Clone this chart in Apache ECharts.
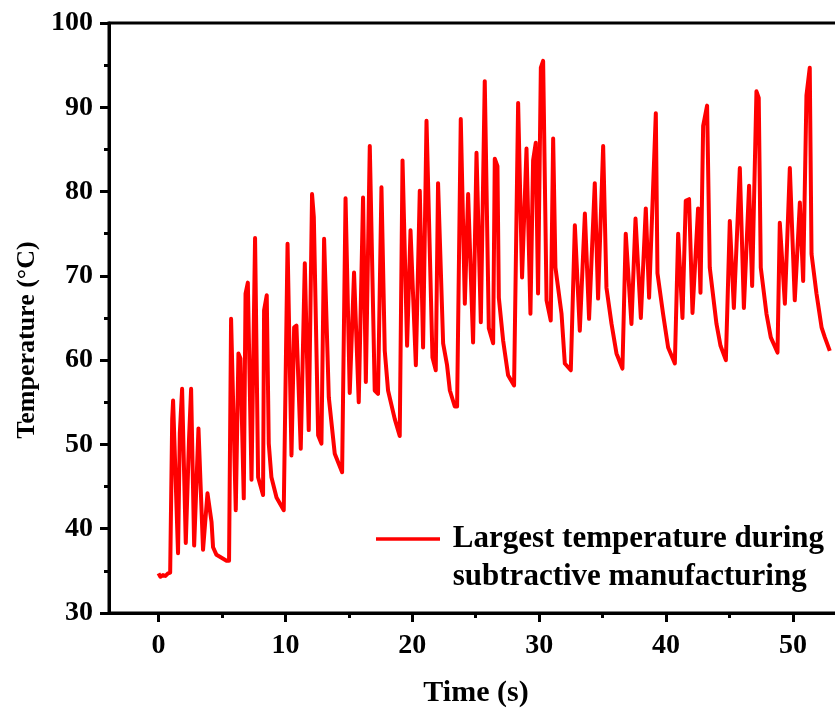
<!DOCTYPE html>
<html>
<head>
<meta charset="utf-8">
<script src="https://cdn.jsdelivr.net/npm/echarts@6/dist/echarts.min.js"></script>
<style>
html,body{margin:0;padding:0;background:#fff;}
#chart{width:835px;height:708px;}
</style>
</head>
<body>
<div id="chart"></div>
<script>
var times = [0.0,0.15,0.35,0.55,0.75,0.92,1.08,1.15,1.54,1.68,1.86,2.15,2.41,2.57,2.81,3.15,3.51,3.86,4.18,4.30,4.57,5.36,5.56,
  5.72,6.09,6.30,6.46,6.72,6.86,7.04,7.33,7.61,7.85,8.24,8.32,8.53,8.69,8.90,9.30,9.87,10.0,
  10.17,10.48,10.69,10.87,11.21,11.53,11.66,11.84,12.10,12.24,12.58,12.84,13.05,13.42,13.89,14.47,
  14.74,15.07,15.41,15.78,16.12,16.34,16.65,17.04,17.30,17.57,17.83,18.09,18.62,19.01,
  19.23,19.59,19.86,20.28,20.59,20.85,21.12,21.59,21.85,22.03,22.43,22.74,22.96,23.35,23.53,
  23.82,24.14,24.40,24.79,25.06,25.40,25.71,26.03,26.37,26.50,26.71,26.82,27.16,27.55,28.02,
  28.34,28.65,29.00,29.31,29.52,29.73,29.91,30.13,30.31,30.58,30.91,31.10,31.28,31.76,32.02,32.49,
  32.81,33.20,33.60,33.93,34.38,34.64,35.04,35.30,35.70,36.09,36.56,
  36.82,37.27,37.59,38.01,38.40,38.66,39.19,39.32,39.76,40.16,40.69,
  40.95,41.29,41.55,41.81,42.08,42.52,42.71,42.92,43.23,43.44,43.97,44.29,44.71,
  45.02,45.34,45.81,46.13,46.54,46.78,47.12,47.30,47.46,47.91,48.25,48.78,
  48.96,49.36,49.75,50.14,50.54,50.80,51.06,51.32,51.46,51.85,52.25,52.51,52.90];
var temps = [34.7,34.3,34.5,34.4,34.7,34.8,53.0,55.2,37.1,51.3,56.6,38.3,50.8,56.6,38.0,51.9,37.5,44.2,40.8,37.8,36.9,36.2,36.2,
  64.9,42.2,60.8,60.2,43.6,67.9,69.2,45.8,74.5,46.1,44.0,65.9,67.7,50.1,46.1,43.7,42.2,42.0,
  73.8,48.7,63.9,64.1,49.5,71.5,71.6,51.7,79.7,77.0,51.1,50.1,74.4,55.6,48.9,46.7,
  79.2,56.1,70.4,55.0,79.3,57.4,85.4,56.4,56.0,80.5,61.1,56.4,53.0,51.0,
  83.7,61.7,75.4,59.4,80.1,61.5,88.4,60.3,58.8,81.0,62.0,59.4,56.4,54.5,54.5,
  88.6,66.7,79.7,62.1,84.6,64.5,93.1,63.8,62.0,83.9,83.0,67.4,62.3,58.2,57.0,
  90.5,69.8,85.1,65.5,83.7,85.8,67.9,94.7,95.5,67.1,64.7,86.3,71.0,65.5,59.6,58.8,
  76.0,63.5,77.4,64.9,81.0,67.3,85.4,68.6,64.3,60.8,59.0,
  75.0,64.3,76.8,65.0,78.0,67.4,89.3,70.3,65.5,61.5,59.6,
  75.0,65.0,78.9,79.1,65.6,78.0,68.0,87.8,90.2,71.0,64.3,61.7,60.0,
  76.5,66.2,82.8,66.2,80.7,68.8,91.9,91.1,71.0,65.5,62.7,60.9,
  76.3,66.7,82.8,67.1,78.7,69.4,91.4,94.7,72.6,67.9,63.9,62.7,61.1];
var xTickLabels = [0, 10, 20, 30, 40, 50];
var xMinorTicks = [5, 15, 25, 35, 45];
var seriesName = 'Largest temperature during\nsubtractive manufacturing';

var pts = times.map(function (t, i) { return [t, temps[i]]; });
var FONT = '"Liberation Serif", "Times New Roman", serif';
var XMIN = -3.9, XMAX = 53.94;

var chart = echarts.init(document.getElementById('chart'), null, {renderer: 'canvas'});
chart.setOption({
  animation: false,
  backgroundColor: '#fff',
  grid: {
    left: 109, right: -8, top: 23, bottom: 95,
    containLabel: false, outerBoundsMode: 'none',
    show: true, borderColor: '#000', borderWidth: 3, backgroundColor: 'transparent'
  },
  legend: {
    show: true,
    left: 376, top: 482,
    padding: 0,
    itemWidth: 64, itemHeight: 14,
    data: [{name: seriesName, icon: 'path://M0,6 L64,6 L64,9.5 L0,9.5 Z'}],
    itemStyle: {color: '#ff0000'},
    formatter: function (name) {
      return ' \n' + name.split('\n').map(function (s) { return ' ' + s; }).join('\n');
    },
    textStyle: {
      fontFamily: FONT, fontWeight: 'bold', fontSize: 31, color: '#000',
      lineHeight: 38
    }
  },
  xAxis: [{
    type: 'value', min: XMIN, max: XMAX,
    name: 'Time (s)', nameLocation: 'middle', nameGap: 65,
    nameTextStyle: {fontFamily: FONT, fontWeight: 'bold', fontSize: 30, color: '#000'},
    axisLine: {show: true, onZero: false, lineStyle: {color: '#000', width: 3}},
    axisTick: {show: true, inside: false, length: 9, lineStyle: {color: '#000', width: 3}, customValues: xTickLabels},
    axisLabel: {show: true, margin: 19, fontFamily: FONT, fontWeight: 'bold', fontSize: 28, color: '#000', customValues: xTickLabels},
    splitLine: {show: false}
  }, {
    type: 'value', min: XMIN, max: XMAX, position: 'bottom',
    axisLine: {show: false},
    axisTick: {show: true, inside: false, length: 5, lineStyle: {color: '#000', width: 3}, customValues: xMinorTicks},
    axisLabel: {show: false},
    splitLine: {show: false}
  }],
  yAxis: {
    type: 'value', min: 30, max: 100, interval: 10,
    name: 'Temperature (\u00B0C)', nameLocation: 'middle', nameGap: 64,
    nameTextStyle: {fontFamily: FONT, fontWeight: 'bold', fontSize: 26, color: '#000', padding: [0, 44, 0, 0]},
    axisLine: {show: true, onZero: false, lineStyle: {color: '#000', width: 3}},
    axisTick: {show: true, inside: false, length: 9, lineStyle: {color: '#000', width: 3}},
    minorTick: {show: true, splitNumber: 2, length: 5, lineStyle: {color: '#000', width: 3}},
    axisLabel: {show: true, margin: 16, fontFamily: FONT, fontWeight: 'bold', fontSize: 28, color: '#000'},
    splitLine: {show: false}
  },
  series: [{
    name: seriesName,
    type: 'line',
    xAxisIndex: 0,
    data: pts,
    showSymbol: false,
    symbol: 'none',
    smooth: false,
    lineStyle: {color: '#ff0000', width: 4, join: 'round'},
    itemStyle: {color: '#ff0000'}
  }]
});
</script>
</body>
</html>
